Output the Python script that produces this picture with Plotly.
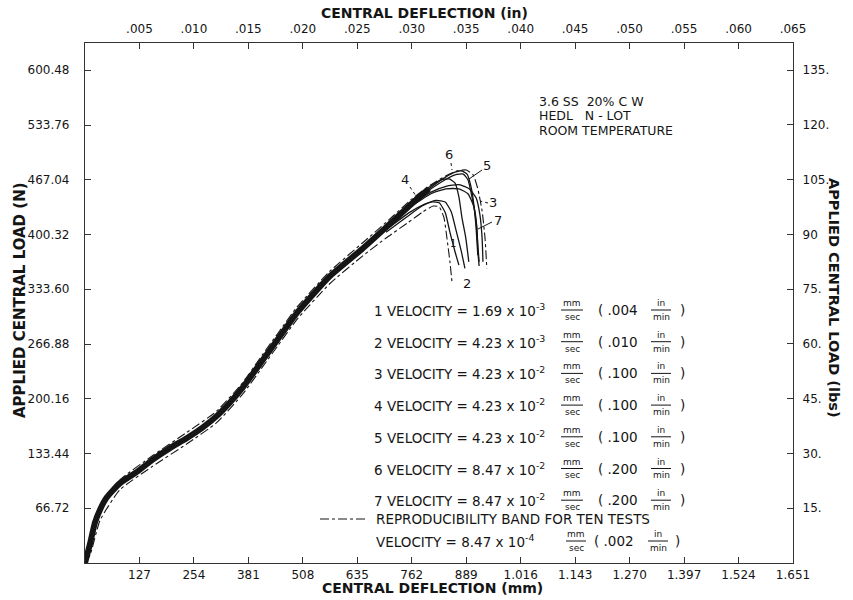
import plotly.graph_objects as go

# ---------------- data (deflection in mm, load in N) ----------------
band_x = [0, 0.012, 0.023, 0.035, 0.051, 0.081, 0.121, 0.158, 0.198, 0.237, 0.274, 0.307,
          0.337, 0.368, 0.414, 0.450, 0.493, 0.570, 0.647, 0.702, 0.756, 0.802]
band_y = [0, 24, 49, 65, 80, 97, 111, 126, 140, 152, 165, 179,
          195, 214, 247, 273, 304, 349, 383, 409, 435, 456]

c1_x = [0.702, 0.756, 0.791, 0.819, 0.840, 0.854, 0.865, 0.877, 0.886]
c1_y = [406, 427, 437, 442, 440, 428, 406, 381, 359]
c2_x = [0.702, 0.751, 0.786, 0.809, 0.826, 0.840, 0.851, 0.863, 0.872]
c2_y = [403, 422, 435, 440, 439, 427, 403, 379, 363]
c3_x = [0.702, 0.763, 0.807, 0.842, 0.872, 0.896, 0.912, 0.921, 0.926, 0.928]
c3_y = [407, 436, 452, 459, 461, 456, 445, 424, 396, 367]
c4_x = [0.702, 0.763, 0.802, 0.830, 0.849, 0.863, 0.872, 0.879, 0.888, 0.895]
c4_y = [409, 442, 458, 467, 468, 463, 446, 421, 396, 367]
c5_x = [0.702, 0.763, 0.807, 0.840, 0.863, 0.882, 0.893, 0.902, 0.912, 0.916, 0.919]
c5_y = [408, 439, 456, 467, 473, 474, 467, 447, 416, 388, 367]
c6_x = [0.702, 0.763, 0.807, 0.840, 0.861, 0.877, 0.891, 0.900, 0.907, 0.912, 0.916]
c6_y = [409, 440, 458, 470, 476, 478, 474, 459, 436, 408, 375]
c7_x = [0.702, 0.763, 0.807, 0.842, 0.872, 0.893, 0.907, 0.914, 0.916, 0.919]
c7_y = [407, 435, 450, 456, 456, 450, 434, 408, 381, 362]

rep_hi_x = [0, 0.016, 0.040, 0.081, 0.158, 0.237, 0.307, 0.368, 0.414, 0.450, 0.493, 0.570, 0.647,
            0.702, 0.763, 0.807, 0.842, 0.868, 0.889, 0.905, 0.916, 0.926, 0.933, 0.937]
rep_hi_y = [0, 40, 71, 101, 131, 159, 185, 220, 254, 280, 311, 355, 390,
            415, 444, 461, 472, 478, 479, 473, 456, 429, 395, 359]
rep_lo_x = [0, 0.012, 0.035, 0.081, 0.158, 0.237, 0.307, 0.368, 0.414, 0.450, 0.493, 0.570, 0.647,
            0.702, 0.751, 0.788, 0.812, 0.826, 0.837, 0.844, 0.851, 0.856]
rep_lo_y = [0, 10, 52, 89, 118, 145, 171, 206, 239, 265, 296, 340, 374,
            396, 414, 428, 435, 434, 421, 396, 367, 341]

# axis ticks
x_mm_ticks = [0.127, 0.254, 0.381, 0.508, 0.635, 0.762, 0.889, 1.016, 1.143, 1.270, 1.397, 1.524, 1.651]
x_mm_text = ["127", "254", "381", "508", "635", "762", "889", "1.016", "1.143", "1.270", "1.397", "1.524", "1.651"]
x_in_ticks = [0.005, 0.010, 0.015, 0.020, 0.025, 0.030, 0.035, 0.040, 0.045, 0.050, 0.055, 0.060, 0.065]
x_in_text = [".005", ".010", ".015", ".020", ".025", ".030", ".035", ".040", ".045", ".050", ".055", ".060", ".065"]
y_n_ticks = [66.72, 133.44, 200.16, 266.88, 333.60, 400.32, 467.04, 533.76, 600.48]
y_n_text = ["66.72", "133.44", "200.16", "266.88", "333.60", "400.32", "467.04", "533.76", "600.48"]
y_lb_ticks = [15, 30, 45, 60, 75, 90, 105, 120, 135]
y_lb_text = ["15.", "30.", "45.", "60.", "75.", "90", "105.", "120.", "135."]

X_MAX_MM = 1.651
Y_MAX_N = 633.7
N_PER_LB = 4.44822

# legend rows
row_ids = ["1", "2", "3", "4", "5", "6", "7"]
row_mant = ["1.69", "4.23", "4.23", "4.23", "4.23", "8.47", "8.47"]
row_exp = ["-3", "-3", "-2", "-2", "-2", "-2", "-2"]
row_inmin = [".004", ".010", ".100", ".100", ".100", ".200", ".200"]

FONT = "DejaVu Sans"
INK = "#151515"

# ---------------- figure ----------------
fig = go.Figure()

def line(x, y, width=1.2, dash="solid"):
    fig.add_trace(go.Scatter(x=x, y=y, mode="lines", showlegend=False, hoverinfo="skip",
                             line=dict(color=INK, width=width, dash=dash, shape="spline", smoothing=0.5)))

line(rep_hi_x, rep_hi_y, 1.1, "dashdot")
line(rep_lo_x, rep_lo_y, 1.1, "dashdot")
line(band_x, band_y, 6)
for cx, cy in [(c1_x, c1_y), (c2_x, c2_y), (c3_x, c3_y), (c4_x, c4_y),
               (c5_x, c5_y), (c6_x, c6_y), (c7_x, c7_y)]:
    line(cx, cy, 1.3)

# helper trace for secondary axes
fig.add_trace(go.Scatter(x=[], y=[], xaxis="x2", yaxis="y2", showlegend=False))

tickfont = dict(family=FONT, size=12, color=INK)
common = dict(showgrid=False, zeroline=False, showline=True, linecolor="#333", linewidth=1.2,
              ticks="inside", ticklen=6, tickcolor="#333", tickfont=tickfont)

fig.update_layout(
    width=853, height=600, margin=dict(l=85, r=60, t=43, b=37),
    paper_bgcolor="white", plot_bgcolor="white", showlegend=False,
    xaxis=dict(range=[0, X_MAX_MM], tickvals=x_mm_ticks, ticktext=x_mm_text, **common),
    yaxis=dict(range=[0, Y_MAX_N], tickvals=y_n_ticks, ticktext=y_n_text, ticklabelstandoff=12, **common),
    xaxis2=dict(range=[0, X_MAX_MM / 25.4], overlaying="x", side="top", anchor="y2",
                tickvals=x_in_ticks, ticktext=x_in_text, ticklabelstandoff=4, **common),
    yaxis2=dict(range=[0, Y_MAX_N / N_PER_LB], overlaying="y", side="right", anchor="x2",
                tickvals=y_lb_ticks, ticktext=y_lb_text, ticklabelstandoff=6, **common),
)

def PX(x):
    return (x - 85) / 708.0

def PY(y):
    return (563 - y) / 520.0

ann = []
shapes = []

def text(x, y, s, size=12, xanchor="left", angle=0):
    ann.append(dict(x=PX(x), y=PY(y), xref="paper", yref="paper", text=s, showarrow=False,
                    xanchor=xanchor, yanchor="middle", textangle=angle,
                    font=dict(family=FONT, size=size, color=INK)))

def seg(x0, y0, x1, y1, dash="solid", w=1):
    shapes.append(dict(type="line", xref="paper", yref="paper", x0=PX(x0), y0=PY(y0),
                       x1=PX(x1), y1=PY(y1), line=dict(color=INK, width=w, dash=dash)))

def frac(xc, y, top, bot, half):
    text(xc, y - 7, top, 9, "center")
    text(xc, y + 7, bot, 9, "center")
    seg(xc - half, y, xc + half, y)

# axis titles
text(424, 13, "<b>CENTRAL DEFLECTION (in)</b>", 14, "center")
text(432, 588, "<b>CENTRAL DEFLECTION (mm)</b>", 14, "center")
text(20, 300, "<b>APPLIED CENTRAL LOAD (N)</b>", 15, "center", -90)
text(834, 298, "<b>APPLIED CENTRAL LOAD (lbs)</b>", 14.5, "center", 90)

# info block
text(537, 101, "3.6 SS  20% C W", 12.5)
text(537, 116, "HEDL   N - LOT", 12.5)
text(537, 131, "ROOM TEMPERATURE", 12.5)

# legend rows
row_y0 = 310
for i, rid in enumerate(row_ids):
    y = row_y0 + i * 31.7
    text(372, y, f"{rid} VELOCITY = {row_mant[i]} x 10<sup>{row_exp[i]}</sup>", 13.5)
    frac(572, y, "mm", "sec", 11)
    text(596, y, f"( {row_inmin[i]}", 13.5)
    frac(661, y, "in", "min", 10)
    text(678, y, ")", 13.5)

text(374, 519, "REPRODUCIBILITY BAND FOR TEN TESTS", 13.5)
seg(320, 519, 367, 519, "dashdot", 1.1)
text(374, 541, "VELOCITY = 8.47 x 10<sup>-4</sup>", 13.5)
frac(576, 541, "mm", "sec", 10)
text(592, 541, "( .002", 13.5)
frac(658, 541, "in", "min", 10)
text(673, 541, ")", 13.5)

# curve labels
text(405, 180, "4", 13, "center")
text(449, 154, "6", 13, "center")
text(487, 165, "5", 13, "center")
text(493, 202, "3", 13, "center")
text(498, 220, "7", 13, "center")
text(467, 283, "2", 13, "center")
text(453, 244, "1", 10, "center")
seg(410, 187, 416, 196, "dot")
seg(451, 163, 452, 170, "dot")
seg(482, 170, 469, 179)
seg(488, 203, 480, 201, "dot")
seg(492, 222, 478, 229)

fig.update_layout(annotations=ann, shapes=shapes)
fig.write_html("out.html")
